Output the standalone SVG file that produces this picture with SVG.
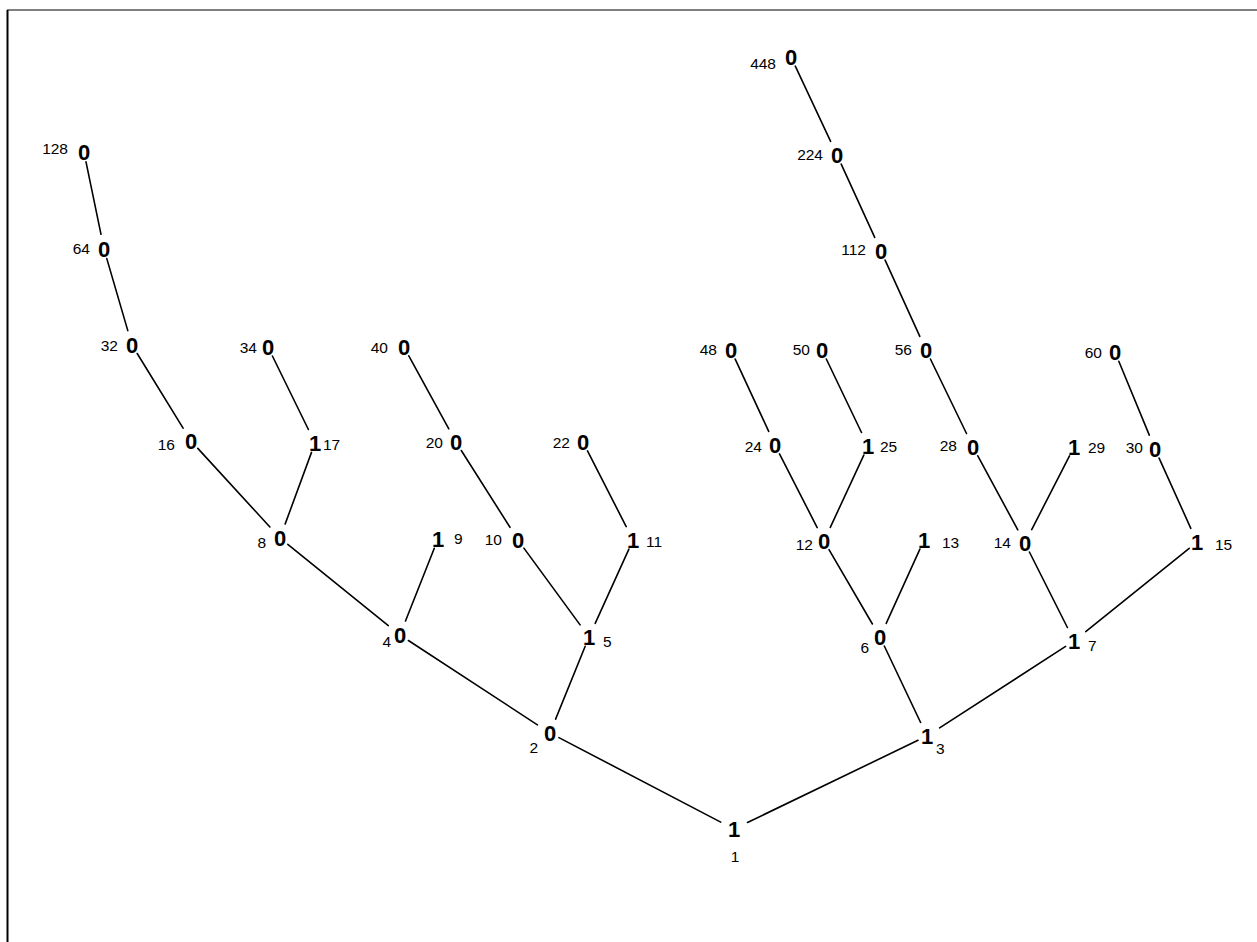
<svg xmlns="http://www.w3.org/2000/svg" width="1257" height="942" viewBox="0 0 1257 942">
  <style>
    .bit { font-family: "Liberation Sans", Arial, sans-serif; font-size: 22px; font-weight: bold; fill: #000; text-anchor: middle; }
    .idx { font-family: "Liberation Sans", Arial, sans-serif; font-size: 15.5px; fill: #000; }
    .l { text-anchor: end; }
    .r { text-anchor: start; }
    .m { text-anchor: middle; }
    .edges line { stroke: #000; stroke-width: 1.6; stroke-linecap: round; }
  </style>
  <rect x="0" y="0" width="1257" height="942" fill="#fff"/>
  <!-- frame -->
  <g id="frame">
    <line x1="7" y1="10" x2="1257" y2="10" stroke="#555" stroke-width="1.5"/>
    <line x1="7.5" y1="10" x2="7.5" y2="942" stroke="#000" stroke-width="2"/>
  </g>
  <!-- tree edges: parent n to children 2n and 2n+1 -->
  <g id="edges" class="edges">
    <line x1="720.7" y1="822.1" x2="558.9" y2="737.6"/>
    <line x1="747.5" y1="822.5" x2="918" y2="740.3"/>
    <line x1="537.4" y1="724.8" x2="408.4" y2="640.5"/>
    <line x1="555.6" y1="719.1" x2="585.2" y2="646.3"/>
    <line x1="920.6" y1="722.5" x2="884.3" y2="646"/>
    <line x1="939.6" y1="727.9" x2="1065.6" y2="646.4"/>
    <line x1="388.3" y1="625.6" x2="287.8" y2="544.3"/>
    <line x1="405.5" y1="621" x2="434.3" y2="548.3"/>
    <line x1="580.1" y1="624.9" x2="523.9" y2="548.1"/>
    <line x1="595.2" y1="623.3" x2="628.9" y2="549.1"/>
    <line x1="872.4" y1="624" x2="829" y2="549.6"/>
    <line x1="886.2" y1="623.3" x2="919.9" y2="549.1"/>
    <line x1="1067.4" y1="627.5" x2="1029.4" y2="552"/>
    <line x1="1085.7" y1="631.6" x2="1189.2" y2="548.3"/>
    <line x1="269.9" y1="527" x2="197.8" y2="448.4"/>
    <line x1="285.2" y1="523.9" x2="311.5" y2="452.4"/>
    <line x1="510" y1="527.3" x2="461.3" y2="450.5"/>
    <line x1="626.2" y1="526.6" x2="587.5" y2="450.9"/>
    <line x1="817.2" y1="527.6" x2="779.5" y2="453.9"/>
    <line x1="830.3" y1="527.4" x2="863.8" y2="455.1"/>
    <line x1="1017.8" y1="529.9" x2="977.8" y2="455.8"/>
    <line x1="1031.7" y1="529.6" x2="1069.5" y2="455.9"/>
    <line x1="1190.8" y1="528.3" x2="1159.1" y2="458.1"/>
    <line x1="183.1" y1="428.2" x2="137.2" y2="353.5"/>
    <line x1="308.4" y1="429.5" x2="272.4" y2="356"/>
    <line x1="448.8" y1="428.8" x2="408.8" y2="355.8"/>
    <line x1="768.7" y1="431.4" x2="735.2" y2="359.1"/>
    <line x1="861.5" y1="432.5" x2="826.3" y2="359"/>
    <line x1="966.5" y1="433.5" x2="930.4" y2="359"/>
    <line x1="1149.3" y1="435.1" x2="1118.8" y2="361.3"/>
    <line x1="127.8" y1="330.6" x2="106.8" y2="258.6"/>
    <line x1="101" y1="234.3" x2="86" y2="161.8"/>
    <line x1="919.8" y1="336.3" x2="885.1" y2="260.1"/>
    <line x1="874.7" y1="237.4" x2="841.2" y2="164.1"/>
    <line x1="830.6" y1="141.4" x2="795.3" y2="66.1"/>
  </g>
  <!-- nodes: bit value and index -->
  <g id="n1"><text class="bit" x="734" y="837">1</text><text class="idx m" x="735" y="862">1</text></g>
  <g id="n2"><text class="bit" x="550" y="741">0</text><text class="idx l" x="538" y="753">2</text></g>
  <g id="n3"><text class="bit" x="927" y="744">1</text><text class="idx r" x="936" y="754">3</text></g>
  <g id="n4"><text class="bit" x="400" y="643">0</text><text class="idx l" x="391" y="647">4</text></g>
  <g id="n5"><text class="bit" x="589" y="645">1</text><text class="idx r" x="603" y="647">5</text></g>
  <g id="n6"><text class="bit" x="880" y="645">0</text><text class="idx l" x="869" y="653">6</text></g>
  <g id="n7"><text class="bit" x="1074" y="649">1</text><text class="idx r" x="1088" y="651">7</text></g>
  <g id="n8"><text class="bit" x="280" y="546">0</text><text class="idx l" x="266" y="548">8</text></g>
  <g id="n9"><text class="bit" x="438" y="547">1</text><text class="idx r" x="454" y="544">9</text></g>
  <g id="n10"><text class="bit" x="518" y="548">0</text><text class="idx l" x="502" y="545">10</text></g>
  <g id="n11"><text class="bit" x="633" y="548">1</text><text class="idx r" x="646" y="547">11</text></g>
  <g id="n12"><text class="bit" x="824" y="549">0</text><text class="idx l" x="813" y="550">12</text></g>
  <g id="n13"><text class="bit" x="924" y="548">1</text><text class="idx r" x="942" y="548">13</text></g>
  <g id="n14"><text class="bit" x="1025" y="551">0</text><text class="idx l" x="1011" y="548">14</text></g>
  <g id="n15"><text class="bit" x="1197" y="550">1</text><text class="idx r" x="1215" y="550">15</text></g>
  <g id="n16"><text class="bit" x="191" y="449">0</text><text class="idx l" x="175" y="450">16</text></g>
  <g id="n17"><text class="bit" x="315" y="451">1</text><text class="idx r" x="323" y="450">17</text></g>
  <g id="n20"><text class="bit" x="456" y="450">0</text><text class="idx l" x="443" y="448">20</text></g>
  <g id="n22"><text class="bit" x="583" y="450">0</text><text class="idx l" x="570" y="448">22</text></g>
  <g id="n24"><text class="bit" x="775" y="453">0</text><text class="idx l" x="762" y="452">24</text></g>
  <g id="n25"><text class="bit" x="868" y="454">1</text><text class="idx r" x="880" y="452">25</text></g>
  <g id="n28"><text class="bit" x="973" y="455">0</text><text class="idx l" x="957" y="451">28</text></g>
  <g id="n29"><text class="bit" x="1074" y="455">1</text><text class="idx r" x="1088" y="453">29</text></g>
  <g id="n30"><text class="bit" x="1155" y="457">0</text><text class="idx l" x="1143" y="453">30</text></g>
  <g id="n32"><text class="bit" x="132" y="353">0</text><text class="idx l" x="118" y="351">32</text></g>
  <g id="n34"><text class="bit" x="268" y="355">0</text><text class="idx l" x="257" y="353">34</text></g>
  <g id="n40"><text class="bit" x="404" y="355">0</text><text class="idx l" x="388" y="353">40</text></g>
  <g id="n48"><text class="bit" x="731" y="358">0</text><text class="idx l" x="717" y="355">48</text></g>
  <g id="n50"><text class="bit" x="822" y="358">0</text><text class="idx l" x="810" y="355">50</text></g>
  <g id="n56"><text class="bit" x="926" y="358">0</text><text class="idx l" x="912" y="355">56</text></g>
  <g id="n60"><text class="bit" x="1115" y="360">0</text><text class="idx l" x="1102" y="358">60</text></g>
  <g id="n64"><text class="bit" x="104" y="257">0</text><text class="idx l" x="90" y="254">64</text></g>
  <g id="n112"><text class="bit" x="881" y="259">0</text><text class="idx l" x="866" y="255">112</text></g>
  <g id="n128"><text class="bit" x="84" y="160">0</text><text class="idx l" x="68" y="154">128</text></g>
  <g id="n224"><text class="bit" x="837" y="163">0</text><text class="idx l" x="823" y="160">224</text></g>
  <g id="n448"><text class="bit" x="791" y="65">0</text><text class="idx l" x="776" y="69">448</text></g>
</svg>
